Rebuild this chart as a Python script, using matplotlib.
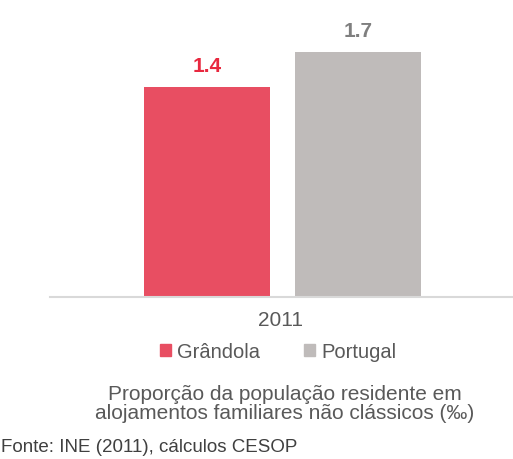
import matplotlib.pyplot as plt
import matplotlib.patches as patches

plt.rcParams['font.family'] = ['Liberation Sans', 'DejaVu Sans']

years = ["2011"]
series = ["Grândola", "Portugal"]
values = [1.44, 1.68]
value_labels = ["1.4", "1.7"]
bar_colors = ["#E84E62", "#BFBBBA"]
label_colors = ["#E8283F", "#7F7F7F"]

W, H = 513, 459
fig = plt.figure(figsize=(W / 100, H / 100), dpi=100)
fig.patch.set_facecolor('white')

# axes placed in pixel terms: x 50..515, baseline at y=297, top at y=5
ax = fig.add_axes([50 / W, 1 - 297 / H, 465 / W, 292 / H])
ax.set_xlim(-1, 1)
ax.set_ylim(0, 2.0)

px = 465 / 2.0  # pixels per x unit
bar_w = 126 / px
offsets = [-75.5 / px, 75.5 / px]

for i, name in enumerate(series):
    ax.bar(offsets[i], values[i], width=bar_w, color=bar_colors[i], label=name, zorder=2)
    ax.annotate(value_labels[i], (offsets[i], values[i]), xytext=(0, 14.5), textcoords='offset points',
                ha='center', va='center', fontsize=15, fontweight='bold', color=label_colors[i])

for s in ['top', 'right', 'left']:
    ax.spines[s].set_visible(False)
ax.spines['bottom'].set_color('#D9D9D9')
ax.spines['bottom'].set_linewidth(1.5)
ax.set_yticks([])
ax.set_xticks([-0.01])
ax.set_xticklabels(years, fontsize=15, color='#595959')
ax.tick_params(axis='x', length=0, pad=10)

handles = [patches.Patch(color=c) for c in bar_colors]
fig.legend(handles, series, loc='center', bbox_to_anchor=(278 / W, 1 - 352 / H), ncol=2,
           frameon=False, fontsize=14.5, handlelength=0.55, handleheight=0.55, handletextpad=0.3,
           columnspacing=2.2, labelcolor='#595959')

fig.text(285 / W, 1 - 404 / H, "Proporção da população residente em\nalojamentos familiares não clássicos (‰)",
         ha='center', va='center', fontsize=15, color='#595959', linespacing=1.05)

fig.text(1 / W, 1 - 448 / H, "Fonte: INE (2011), cálculos CESOP", ha='left', va='center',
         fontsize=13.5, color='#404040')

fig.savefig('out.png', dpi=100)
